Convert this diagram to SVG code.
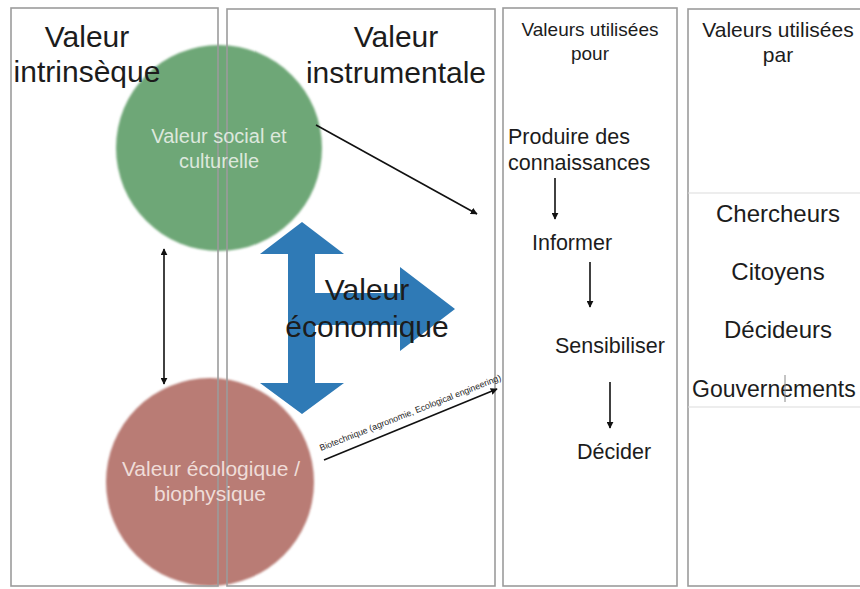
<svg xmlns="http://www.w3.org/2000/svg" width="860" height="589" viewBox="0 0 860 589">
<defs>
<marker id="ah" viewBox="0 0 10 10" refX="9" refY="5" markerWidth="7" markerHeight="7" markerUnits="userSpaceOnUse" orient="auto-start-reverse">
<path d="M0,0 L10,5 L0,10 Z" fill="#111"/>
</marker>
<filter id="soft" x="-5%" y="-5%" width="110%" height="110%"><feGaussianBlur stdDeviation="0.8"/></filter>
</defs>
<style>
text{font-family:"Liberation Sans",Arial,Helvetica,sans-serif;fill:#1c1c1c}
.box{fill:none;stroke:#9c9c9c;stroke-width:1.6}
.sep{stroke:#dcdcdc;stroke-width:1.2}
.hd{font-size:30px}
.col{font-size:19px}
.col4{font-size:21px}
.item{font-size:21.5px}
.who{font-size:24px}
.ctext{font-size:20px}
.con{stroke:#111;stroke-width:1.6;fill:none}
.blue{fill:#2f7ab6}
</style>
<rect width="860" height="589" fill="#ffffff"/>

<g id="circle-social">
<circle cx="219" cy="148" r="103" fill="#6ea777" filter="url(#soft)"/>
</g>
<g id="circle-ecologique">
<circle cx="210" cy="482" r="104" fill="#b97c74" filter="url(#soft)"/>
</g>

<g id="valeur-economique">
<path class="blue" d="M302,222 L344,254 L315,254 L315,383 L344,383 L302,414 L260,383 L288,383 L288,254 L260,254 Z"/>
<path class="blue" d="M314,293 L400,293 L400,267 L455,309 L400,351 L400,325 L314,325 Z"/>
</g>

<g id="col-intrinseque">
<rect class="box" x="11" y="8" width="207" height="578"/>
<text class="hd" x="87" y="47" text-anchor="middle">Valeur</text>
<text class="hd" x="87" y="82" text-anchor="middle">intrinsèque</text>
</g>
<g id="col-instrumentale">
<rect class="box" x="227" y="9" width="268" height="577"/>
<text class="hd" x="396" y="47" text-anchor="middle">Valeur</text>
<text class="hd" x="396" y="83" text-anchor="middle">instrumentale</text>
</g>
<g id="col-pour">
<rect class="box" x="503" y="8" width="174" height="578"/>
<text class="col" x="590" y="36" text-anchor="middle">Valeurs utilisées</text>
<text class="col" x="590" y="60" text-anchor="middle">pour</text>
</g>
<g id="col-par">
<rect class="box" x="688" y="9" width="180" height="577"/>
<line class="sep" x1="688" y1="193" x2="860" y2="193"/>
<line class="sep" x1="688" y1="407" x2="860" y2="407"/>
<text class="col4" x="778" y="37" text-anchor="middle">Valeurs utilisées</text>
<text class="col4" x="778" y="62" text-anchor="middle">par</text>
</g>

<g id="node-social">
<text class="ctext" x="219" y="143" text-anchor="middle" style="fill:#dde8dd">Valeur social et</text>
<text class="ctext" x="219" y="168" text-anchor="middle" style="fill:#dde8dd">culturelle</text>
</g>
<g id="node-ecologique">
<text class="ctext" x="211" y="476" text-anchor="middle" style="fill:#efdcd8;font-size:21px">Valeur écologique /</text>
<text class="ctext" x="210" y="501" text-anchor="middle" style="fill:#efdcd8;font-size:21px">biophysique</text>
</g>
<g id="node-economique-label">
<text class="hd" x="367" y="300" text-anchor="middle">Valeur</text>
<text class="hd" x="367" y="337" text-anchor="middle">économique</text>
</g>

<g id="node-produire">
<text class="item" x="508" y="144">Produire des</text>
<text class="item" x="508" y="170">connaissances</text>
</g>
<g id="node-informer"><text class="item" x="532" y="250">Informer</text></g>
<g id="node-sensibiliser"><text class="item" x="555" y="353">Sensibiliser</text></g>
<g id="node-decider"><text class="item" x="577" y="459">Décider</text></g>

<g id="node-chercheurs"><text class="who" x="778" y="222" text-anchor="middle">Chercheurs</text></g>
<g id="node-citoyens"><text class="who" x="778" y="280" text-anchor="middle">Citoyens</text></g>
<g id="node-decideurs"><text class="who" x="778" y="338" text-anchor="middle">Décideurs</text></g>
<g id="node-gouvernements">
<text class="who" x="692" y="397" style="font-size:23px">Gouvernements</text>
<line x1="785" y1="375" x2="785" y2="402" stroke="#888" stroke-width="1"/>
</g>

<g id="connectors">
<line class="con" x1="316" y1="125" x2="477" y2="214" marker-end="url(#ah)"/>
<line class="con" x1="164" y1="249" x2="164" y2="384" marker-start="url(#ah)" marker-end="url(#ah)"/>
<line class="con" x1="324" y1="460" x2="497" y2="389" marker-end="url(#ah)"/>
<text x="321" y="451" transform="rotate(-21.5 321 451)" style="font-size:8.8px">Biotechnique (agronomie, Ecological engineering)</text>
<line class="con" x1="555" y1="178" x2="555" y2="219" marker-end="url(#ah)"/>
<line class="con" x1="590" y1="262" x2="590" y2="307" marker-end="url(#ah)"/>
<line class="con" x1="610" y1="382" x2="610" y2="428" marker-end="url(#ah)"/>
</g>
</svg>
